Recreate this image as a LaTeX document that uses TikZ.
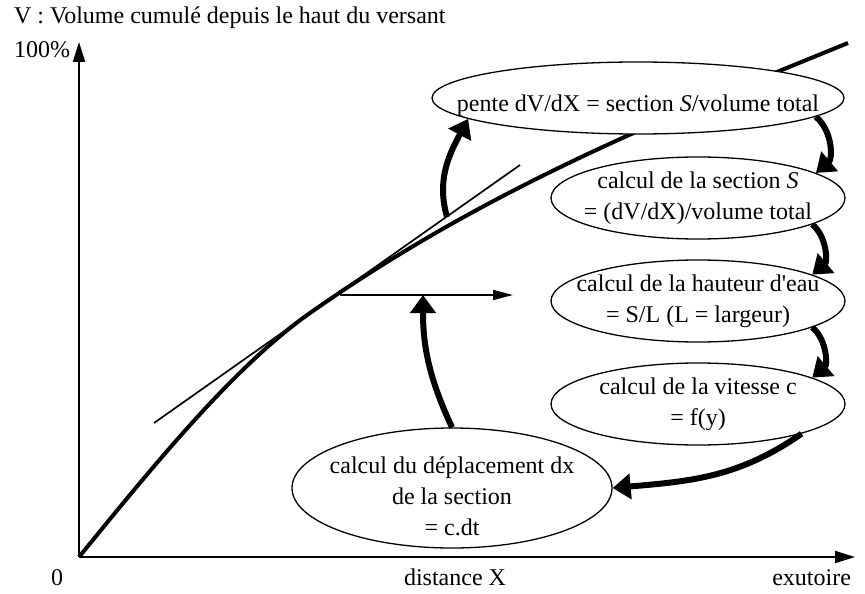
\documentclass[tikz,border=0pt]{standalone}
\usepackage{fontspec}
\setmainfont{Liberation Serif}
\usetikzlibrary{arrows.meta,
                positioning,
                shapes.geometric
            }

\tikzset{
    bulle/.style={ellipse, draw, line width=0.65pt, fill=white, inner sep=0pt},
    texte/.style={font=\fontsize{12}{15.5}\selectfont, align=center},
    fleche/.style={line width=3pt, -{Triangle[length=9pt,width=12.5pt]}},
    axe/.style={line width=1pt, -{Triangle[length=10pt,width=6pt]}}
}

\begin{document}
\begin{tikzpicture}[x=0.5pt, y=0.5pt, every node/.style={texte}]
            \useasboundingbox (0, 0) rectangle (865, -593);
            \coordinate (O) at (79, -557);
            \coordinate (ymax) at (79, -42);
            \coordinate (xmax) at (855, -557);
            \draw[axe] (O) -- (ymax);
            \draw[axe] (O) -- (xmax);
            \node[anchor=base west] (titre) at (7, -24) {V : Volume cumulé depuis le haut du versant};
            \node[anchor=base west] (cent) at (7, -58) {100\%};
            \node[anchor=base] (zero) at (57, -585) {0};
            \node[anchor=base] (dist) at (455, -585) {distance X};
            \node[anchor=base east] (exu) at (858, -585) {exutoire};
            \coordinate (T) at (310, -313);
            \coordinate (haut-versant) at (848, -43);
            \draw[line width=2pt] (O) .. controls (150, -470) and (233, -367) .. (T) .. controls (489, -187) and (669, -116) .. (haut-versant);
            \coordinate (tA) at (154, -423);
            \coordinate (tB) at (520, -165);
            \draw[line width=0.85pt] (tA) -- (tB);
            \coordinate (tgt) at (340, -295);
            \coordinate (hfin) at (513, -295);
            \draw[line width=0.8pt, -{Triangle[length=10pt,width=5pt]}] (tgt) -- (hfin);
            \node[bulle, minimum width=206pt, minimum height=36pt, label={[texte, yshift=-4pt]center:{pente dV/dX = section \textit{S}/volume total}}] (pente) at (638, -98) {};
            \node[bulle, minimum width=147pt, minimum height=41pt, label={[texte]center:{calcul de la section \textit{S}\\= (dV/dX)/volume total}}] (secS) at (698, -198) {};
            \node[bulle, minimum width=147pt, minimum height=41pt, label={[texte]center:{calcul de la hauteur d\textquotesingle eau\\= S/L (L = largeur)}}] (haut) at (698, -301) {};
            \node[bulle, minimum width=147pt, minimum height=41pt, label={[texte]center:{calcul de la vitesse c\\= f(y)}}] (vit) at (698, -404) {};
            \node[bulle, minimum width=160pt, minimum height=60pt, label={[texte, yshift=-4pt]center:{calcul du déplacement dx\\de la section\\= c.dt}}] (depl) at (452, -488) {};
            \coordinate (appui) at (447, -217);
            \coordinate (pied) at (423, -295);
            \draw[fleche] (appui) to[out=106, in=-118] (pente.187);
            \draw[fleche] (pente.-6) to[bend left=50] (secS.12);
            \draw[fleche] (secS.-13) to[bend left=50] (haut.13);
            \draw[fleche] (haut.-13) to[bend left=50] (vit.13);
            \draw[fleche] (vit.-16) to[out=-145, in=5] (depl.east);
            \draw[fleche] (depl.north) to[out=115, in=-90] (pied);
        \end{tikzpicture}
\end{document}
